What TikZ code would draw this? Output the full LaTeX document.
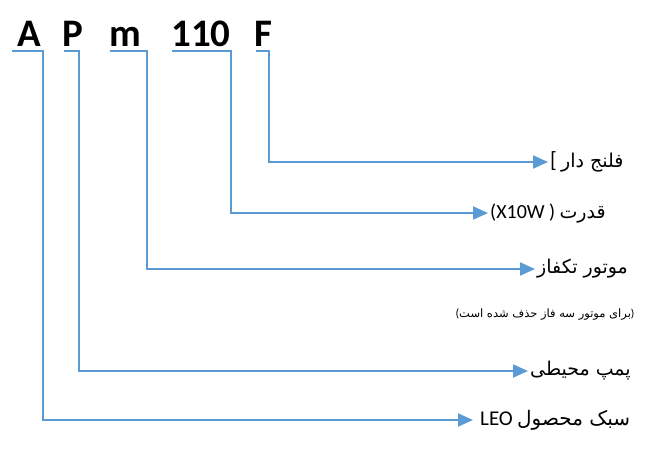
\documentclass[tikz,border=0pt]{standalone}
\usepackage{fontspec}
\setmainfont{Carlito}
\newfontfamily\arabicfont[Script=Arabic]{DejaVu Sans}
\TeXXeTstate=1
\usepackage{xcolor}
\usepackage{tikz}
\usetikzlibrary{arrows.meta}
\definecolor{linkblue}{HTML}{5B9BD5}

\tikzset{
	code/.style = {anchor = base, inner sep = 0pt, font = \bfseries\fontsize{39}{42}\selectfont},
	link/.style = {draw = linkblue, line width = 2pt, -{Triangle[length = 15pt, width = 13pt]}},
	partname/.style = {anchor = west, inner sep = 2pt, font = \fontsize{19}{22}\selectfont}
}

\begin{document}
\begin{tikzpicture}[x = 1pt, y = -1pt]
		\useasboundingbox (0,0) rectangle (669,453);
		
		\begin{scope}
			\node [code] (cA) at (29.5,46) {A};
			\node [code] (cP) at (73,46) {P};
			\node [code] (cm) at (125,46) {m};
			\node [code] (c110) at (201,46) {110};
			\node [code] (cF) at (263,46) {F};
		\end{scope}
		
		\begin{scope}
			\node [partname] (lF) at (548,162) {{\rmfamily\fontsize{22}{24}\selectfont [} \arabicfont\beginR فلنج دار\endR};
			\node [partname] (l110) at (488,213) {{\rmfamily\fontsize{20}{24}\selectfont (X10W )} \arabicfont\beginR قدرت\endR};
			\node [partname] (lm) at (535,269) {\arabicfont\beginR موتور تکفاز\endR};
			\node [inner sep = 0pt] (note) at (545,315) {\rmfamily\fontsize{12}{13}\selectfont (\arabicfont\fontsize{11.5}{13}\selectfont\beginR برای موتور سه فاز حذف شده است\endR\rmfamily )};
			\node [partname] (lP) at (528,371) {\arabicfont\beginR پمپ محیطی\endR};
			\node [partname, inner xsep = 7pt] (lA) at (473,420) {{\rmfamily\fontsize{21}{24}\selectfont LEO} \arabicfont\fontsize{20}{24}\selectfont\beginR سبک محصول\endR};
		\end{scope}
		
		\begin{scope}
			\coordinate (sA) at (12,51);   \coordinate (kA) at (43,51);
			\coordinate (sP) at (64,51);   \coordinate (kP) at (79,51);
			\coordinate (sm) at (110,51);  \coordinate (km) at (147,51);
			\coordinate (s110) at (172,51); \coordinate (k110) at (231,51);
			\coordinate (sF) at (256,51);  \coordinate (kF) at (269,51);
		\end{scope}
		
		\begin{scope}
			\draw [link] (sF) -- (kF) |- (lF.west);
			\draw [link] (s110) -- (k110) |- (l110.west);
			\draw [link] (sm) -- (km) |- (lm.west);
			\draw [link] (sP) -- (kP) |- (lP.west);
			\draw [link] (sA) -- (kA) |- (lA.west);
		\end{scope}
	\end{tikzpicture}
\end{document}
